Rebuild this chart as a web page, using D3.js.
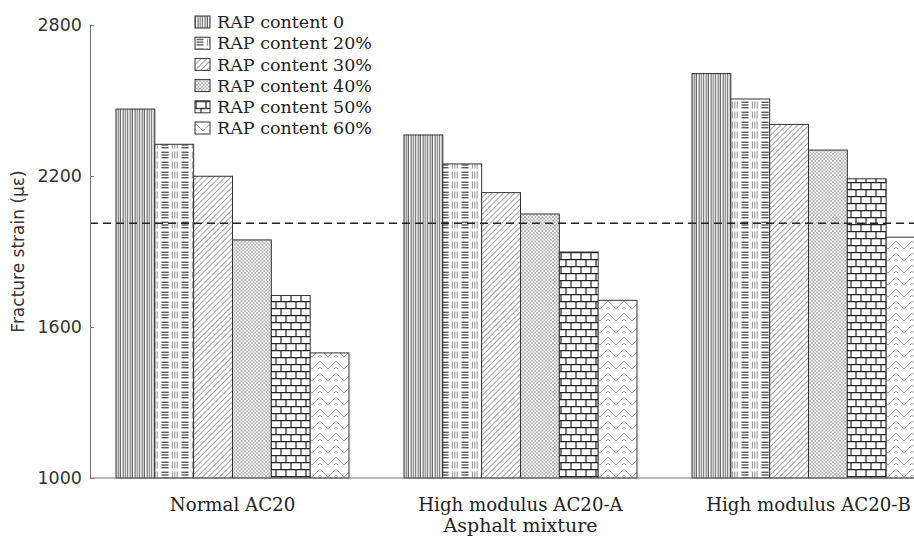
<!DOCTYPE html>
<html>
<head>
<meta charset="utf-8">
<script src="https://cdn.jsdelivr.net/npm/d3@7"></script>
<style>
  html, body { margin: 0; padding: 0; background: #fff; }
  svg { display: block; }
</style>
</head>
<body>
<svg id="chart" width="914" height="540"></svg>
<script>
// ---- data ----
const categories = ["Normal AC20", "High modulus AC20-A", "High modulus AC20-B"];
const seriesNames = ["RAP content 0", "RAP content 20%", "RAP content 30%", "RAP content 40%", "RAP content 50%", "RAP content 60%"];
const rap0  = [2466, 2363, 2607];
const rap20 = [2326, 2248, 2506];
const rap30 = [2199, 2134, 2405];
const rap40 = [1946, 2049, 2303];
const rap50 = [1725, 1898, 2189];
const rap60 = [1497, 1706, 1957];
const yTicks = [1000, 1600, 2200, 2800];
const thresholdValue = 2012;
const yTitle = "Fracture strain (\u03bc\u03b5)";
const xTitle = "Asphalt mixture";

const seriesValues = [rap0, rap20, rap30, rap40, rap50, rap60];
const patternIds = ["p0", "p20", "p30", "p40", "p50", "p60"];

const svg = d3.select("#chart");
const defs = svg.append("defs");

// ---- patterns ----
function pat(id, w, h, transform) {
  const p = defs.append("pattern").attr("id", id)
    .attr("patternUnits", "userSpaceOnUse").attr("width", w).attr("height", h);
  if (transform) p.attr("patternTransform", transform);
  p.append("rect").attr("width", w).attr("height", h).attr("fill", "#fff");
  return p;
}
// vertical lines
{
  const p = pat("p0", 12, 4);
  [[0,0.9,"#555"],[2,0.8,"#aaa"],[3.4,0.9,"#555"],[5,0.9,"#999"],[6.8,1,"#666"],[8.6,1,"#aaa"],[10.4,0.9,"#555"]]
    .forEach(([x,w,c]) => p.append("rect").attr("x", x).attr("y", 0).attr("width", w).attr("height", 4).attr("fill", c));
}
// basket weave
{
  const p = pat("p20", 20, 10);
  [2.3, 5, 7.7].forEach(y => p.append("line").attr("x1", 1.5).attr("x2", 8.5).attr("y1", y).attr("y2", y)
    .attr("stroke", "#555").attr("stroke-width", 1.4));
  [12.4, 14.8, 17.2].forEach(x => p.append("line").attr("x1", x).attr("x2", x).attr("y1", 1.5).attr("y2", 8.5)
    .attr("stroke", "#999").attr("stroke-width", 1.1));
}
// diagonal
{
  const p = pat("p30", 4, 4, "rotate(45)");
  p.append("line").attr("x1", 0.5).attr("x2", 0.5).attr("y1", 0).attr("y2", 4).attr("stroke", "#888").attr("stroke-width", 0.8);
}
// crosshatch
{
  const p = pat("p40", 3.5, 3.5);
  p.append("path").attr("d", "M0,0 L3.5,3.5 M3.5,0 L0,3.5").attr("stroke", "#999").attr("stroke-width", 0.7).attr("fill", "none");
}
// brick
{
  const p = pat("p50", 10, 14);
  p.append("path").attr("d", "M0,0.6 H10 M0,7.6 H10 M1,0 V7.6 M6,7.6 V14")
    .attr("stroke", "#222").attr("stroke-width", 1.2).attr("fill", "none");
}
// herringbone
{
  const p = pat("p60", 16, 12);
  p.append("path").attr("d", "M0,1 L8,9 L16,1 M0,7 L2,9 M14,9 L16,7")
    .attr("stroke", "#aaa").attr("stroke-width", 1).attr("fill", "none");
}

// ---- scales ----
const x0 = d3.scaleBand().domain(categories).range([116, 925]).paddingInner(0.191).paddingOuter(0);
const x1 = d3.scaleBand().domain(seriesNames).range([0, x0.bandwidth()]).padding(0);
const y = d3.scaleLinear().domain([1000, 2800]).range([478, 25]);

const axisColor = "#777";

// ---- bars ----
const g = svg.append("g");
categories.forEach((cat, ci) => {
  seriesNames.forEach((s, si) => {
    const v = seriesValues[si][ci];
    g.append("rect")
      .attr("x", x0(cat) + x1(s))
      .attr("y", y(v))
      .attr("width", x1.bandwidth())
      .attr("height", y(1000) - y(v))
      .attr("fill", `url(#${patternIds[si]})`)
      .attr("stroke", "#333")
      .attr("stroke-width", 1);
  });
});

// ---- threshold dashed line ----
svg.append("line")
  .attr("x1", 90).attr("x2", 914)
  .attr("y1", y(thresholdValue)).attr("y2", y(thresholdValue))
  .attr("stroke", "#222").attr("stroke-width", 1.5).attr("stroke-dasharray", "8,5");

// ---- axes ----
const yAxis = d3.axisLeft(y).tickValues(yTicks).tickFormat(d3.format("d"))
  .tickSizeInner(-4).tickSizeOuter(0).tickPadding(8);
const ya = svg.append("g").attr("transform", "translate(90,0)").call(yAxis);
ya.select(".domain").attr("stroke", axisColor);
ya.selectAll(".tick line").attr("stroke", axisColor);
ya.selectAll(".tick text").attr("font-family", "DejaVu Sans").attr("font-size", 17.5).attr("fill", "#333");

const xAxis = d3.axisBottom(x0).tickSize(0).tickPadding(20);
const xa = svg.append("g").attr("transform", "translate(0,478)").call(xAxis);
xa.select(".domain").remove();
xa.selectAll(".tick text").attr("font-family", "DejaVu Serif").attr("font-size", 18.2).attr("fill", "#222");
svg.append("line").attr("x1", 90).attr("x2", 914).attr("y1", 478).attr("y2", 478).attr("stroke", axisColor);

// ---- axis titles ----
svg.append("text")
  .attr("transform", `translate(24,${(y(1000) + y(2800)) / 2}) rotate(-90)`)
  .attr("text-anchor", "middle")
  .attr("font-family", "DejaVu Sans").attr("font-size", 17).attr("fill", "#333")
  .text(yTitle);
svg.append("text")
  .attr("x", x0(categories[1]) + x0.bandwidth() / 2).attr("y", 532)
  .attr("text-anchor", "middle")
  .attr("font-family", "DejaVu Serif").attr("font-size", 19).attr("fill", "#222")
  .text(xTitle);

// ---- legend ----
const leg = svg.append("g").attr("transform", "translate(195,16)");
seriesNames.forEach((s, i) => {
  const row = leg.append("g").attr("transform", `translate(0,${i * 21.2})`);
  row.append("rect").attr("width", 15).attr("height", 12)
    .attr("fill", `url(#${patternIds[i]})`).attr("stroke", "#333").attr("stroke-width", 1);
  row.append("text").attr("x", 22).attr("y", 6).attr("dy", "0.35em")
    .attr("font-family", "DejaVu Serif").attr("font-size", 17.5).attr("fill", "#222")
    .text(s);
});
</script>
</body>
</html>
